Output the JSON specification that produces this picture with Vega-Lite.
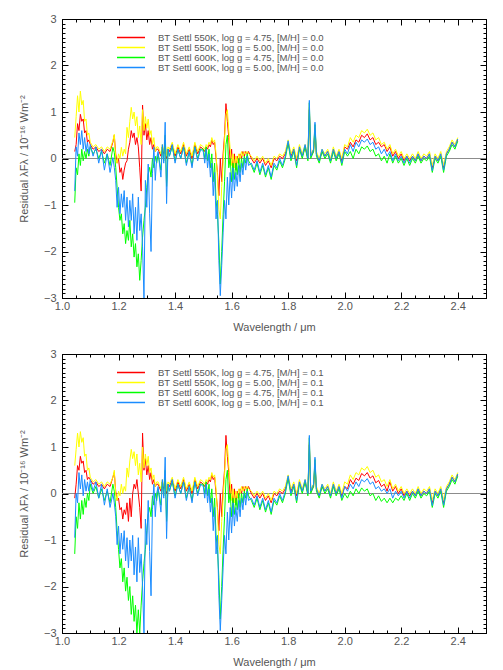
{
"$schema": "https://vega.github.io/schema/vega-lite/v6.json",
"autosize": {"type": "pad"},
"padding": {"left": 17, "top": 12, "right": 18, "bottom": 3},
"background": "white",
"bounds": "flush",
"spacing": 56,
"config": {
 "view": {"stroke": "#000", "strokeWidth": 1},
 "axis": {"grid": false, "domainColor": "#000", "domainWidth": 1, "tickColor": "#000", "tickWidth": 1, "labelFont": "Liberation Sans", "labelFontSize": 11, "labelColor": "#555", "titleFont": "Liberation Sans", "titleFontSize": 11, "titleFontWeight": "normal", "titleColor": "#555", "labelOverlap": false, "labelFlush": false, "labelBound": false}
},
"datasets": {"d": [
{"p":1,"s":"A","x":1.045,"y":0.15},{"p":1,"s":"A","x":1.05,"y":0.3},{"p":1,"s":"A","x":1.055,"y":0.75},{"p":1,"s":"A","x":1.06,"y":0.6},{"p":1,"s":"A","x":1.065,"y":0.95},{"p":1,"s":"A","x":1.07,"y":0.8},{"p":1,"s":"A","x":1.075,"y":0.85},{"p":1,"s":"A","x":1.08,"y":0.55},{"p":1,"s":"A","x":1.085,"y":0.6},{"p":1,"s":"A","x":1.09,"y":0.35},{"p":1,"s":"A","x":1.095,"y":0.4},
{"p":1,"s":"A","x":1.1,"y":0.3},{"p":1,"s":"A","x":1.11,"y":0.2},{"p":1,"s":"A","x":1.12,"y":0.25},{"p":1,"s":"A","x":1.13,"y":0.15},{"p":1,"s":"A","x":1.14,"y":0.2},{"p":1,"s":"A","x":1.15,"y":0.1},{"p":1,"s":"A","x":1.16,"y":0.2},{"p":1,"s":"A","x":1.17,"y":0.15},
{"p":1,"s":"A","x":1.18,"y":0.35},{"p":1,"s":"A","x":1.185,"y":0.5},{"p":1,"s":"A","x":1.19,"y":0.1},{"p":1,"s":"A","x":1.195,"y":-0.1},{"p":1,"s":"A","x":1.2,"y":0.0},{"p":1,"s":"A","x":1.205,"y":-0.3},{"p":1,"s":"A","x":1.21,"y":-0.2},{"p":1,"s":"A","x":1.215,"y":-0.45},{"p":1,"s":"A","x":1.22,"y":-0.25},{"p":1,"s":"A","x":1.225,"y":-0.1},{"p":1,"s":"A","x":1.23,"y":-0.05},{"p":1,"s":"A","x":1.235,"y":0.2},{"p":1,"s":"A","x":1.24,"y":0.35},{"p":1,"s":"A","x":1.245,"y":0.6},{"p":1,"s":"A","x":1.25,"y":0.45},{"p":1,"s":"A","x":1.255,"y":0.55},{"p":1,"s":"A","x":1.26,"y":0.3},{"p":1,"s":"A","x":1.265,"y":0.45},{"p":1,"s":"A","x":1.27,"y":0.25},{"p":1,"s":"A","x":1.275,"y":-0.2},{"p":1,"s":"A","x":1.28,"y":-0.7},{"p":1,"s":"A","x":1.285,"y":1.15},{"p":1,"s":"A","x":1.29,"y":0.5},{"p":1,"s":"A","x":1.295,"y":0.75},{"p":1,"s":"A","x":1.3,"y":0.4},{"p":1,"s":"A","x":1.305,"y":0.6},{"p":1,"s":"A","x":1.31,"y":0.3},{"p":1,"s":"A","x":1.315,"y":0.45},{"p":1,"s":"A","x":1.32,"y":0.2},{"p":1,"s":"A","x":1.325,"y":0.3},{"p":1,"s":"A","x":1.33,"y":0.15},{"p":1,"s":"A","x":1.335,"y":0.2},
{"p":1,"s":"A","x":1.34,"y":0.2},{"p":1,"s":"A","x":1.35,"y":0.05},{"p":1,"s":"A","x":1.355,"y":0.25},{"p":1,"s":"A","x":1.36,"y":0.1},{"p":1,"s":"A","x":1.365,"y":0.3},{"p":1,"s":"A","x":1.37,"y":0.0},{"p":1,"s":"A","x":1.375,"y":0.2},{"p":1,"s":"A","x":1.38,"y":0.15},{"p":1,"s":"A","x":1.39,"y":0.3},{"p":1,"s":"A","x":1.4,"y":0.05},{"p":1,"s":"A","x":1.41,"y":0.25},{"p":1,"s":"A","x":1.42,"y":0.1},{"p":1,"s":"A","x":1.43,"y":0.3},{"p":1,"s":"A","x":1.44,"y":0.05},{"p":1,"s":"A","x":1.45,"y":0.2},{"p":1,"s":"A","x":1.46,"y":0.0},{"p":1,"s":"A","x":1.47,"y":0.3},{"p":1,"s":"A","x":1.48,"y":0.1},{"p":1,"s":"A","x":1.49,"y":0.25},
{"p":1,"s":"A","x":1.5,"y":0.2},{"p":1,"s":"A","x":1.505,"y":0.15},{"p":1,"s":"A","x":1.51,"y":0.25},{"p":1,"s":"A","x":1.515,"y":0.2},{"p":1,"s":"A","x":1.52,"y":0.3},{"p":1,"s":"A","x":1.525,"y":0.25},{"p":1,"s":"A","x":1.53,"y":0.4},{"p":1,"s":"A","x":1.535,"y":0.3},{"p":1,"s":"A","x":1.54,"y":0.35},{"p":1,"s":"A","x":1.545,"y":0.0},{"p":1,"s":"A","x":1.55,"y":-0.3},{"p":1,"s":"A","x":1.555,"y":-0.8},{"p":1,"s":"A","x":1.56,"y":0.0},{"p":1,"s":"A","x":1.565,"y":-0.5},{"p":1,"s":"A","x":1.57,"y":0.1},{"p":1,"s":"A","x":1.575,"y":0.5},{"p":1,"s":"A","x":1.58,"y":1.18},{"p":1,"s":"A","x":1.585,"y":0.8},{"p":1,"s":"A","x":1.59,"y":0.45},{"p":1,"s":"A","x":1.595,"y":-0.1},{"p":1,"s":"A","x":1.6,"y":0.2},{"p":1,"s":"A","x":1.605,"y":-0.3},{"p":1,"s":"A","x":1.61,"y":0.1},{"p":1,"s":"A","x":1.615,"y":-0.25},{"p":1,"s":"A","x":1.62,"y":0.05},{"p":1,"s":"A","x":1.625,"y":-0.1},{"p":1,"s":"A","x":1.63,"y":0.1},{"p":1,"s":"A","x":1.635,"y":0.0},{"p":1,"s":"A","x":1.64,"y":0.15},{"p":1,"s":"A","x":1.645,"y":0.05},{"p":1,"s":"A","x":1.65,"y":0.15},{"p":1,"s":"A","x":1.655,"y":0.1},{"p":1,"s":"A","x":1.66,"y":0.15},
{"p":1,"s":"A","x":1.67,"y":0.0},{"p":1,"s":"A","x":1.68,"y":-0.1},{"p":1,"s":"A","x":1.69,"y":0.0},{"p":1,"s":"A","x":1.7,"y":-0.1},{"p":1,"s":"A","x":1.71,"y":0.0},{"p":1,"s":"A","x":1.72,"y":-0.15},{"p":1,"s":"A","x":1.73,"y":-0.05},{"p":1,"s":"A","x":1.74,"y":-0.2},{"p":1,"s":"A","x":1.75,"y":0.0},{"p":1,"s":"A","x":1.76,"y":-0.05},{"p":1,"s":"A","x":1.77,"y":0.05},{"p":1,"s":"A","x":1.78,"y":0.0},{"p":1,"s":"A","x":1.79,"y":0.1},{"p":1,"s":"A","x":1.8,"y":0.35},{"p":1,"s":"A","x":1.81,"y":0.05},{"p":1,"s":"A","x":1.82,"y":0.2},{"p":1,"s":"A","x":1.83,"y":-0.05},{"p":1,"s":"A","x":1.84,"y":0.25},{"p":1,"s":"A","x":1.85,"y":0.05},{"p":1,"s":"A","x":1.86,"y":0.25},{"p":1,"s":"A","x":1.87,"y":0.0},{"p":1,"s":"A","x":1.875,"y":1.05},{"p":1,"s":"A","x":1.88,"y":0.05},{"p":1,"s":"A","x":1.89,"y":0.15},{"p":1,"s":"A","x":1.895,"y":0.6},{"p":1,"s":"A","x":1.9,"y":0.1},{"p":1,"s":"A","x":1.91,"y":-0.05},{"p":1,"s":"A","x":1.92,"y":0.15},{"p":1,"s":"A","x":1.93,"y":0.05},{"p":1,"s":"A","x":1.94,"y":0.15},{"p":1,"s":"A","x":1.95,"y":-0.05},{"p":1,"s":"A","x":1.96,"y":0.2},{"p":1,"s":"A","x":1.97,"y":0.0},{"p":1,"s":"A","x":1.98,"y":0.15},{"p":1,"s":"A","x":1.99,"y":-0.05},{"p":1,"s":"A","x":2.0,"y":0.25},{"p":1,"s":"A","x":2.01,"y":0.2},{"p":1,"s":"A","x":2.02,"y":0.35},{"p":1,"s":"A","x":2.03,"y":0.25},{"p":1,"s":"A","x":2.04,"y":0.4},{"p":1,"s":"A","x":2.05,"y":0.35},{"p":1,"s":"A","x":2.06,"y":0.5},{"p":1,"s":"A","x":2.07,"y":0.45},{"p":1,"s":"A","x":2.08,"y":0.53},{"p":1,"s":"A","x":2.09,"y":0.4},{"p":1,"s":"A","x":2.1,"y":0.45},{"p":1,"s":"A","x":2.11,"y":0.3},{"p":1,"s":"A","x":2.12,"y":0.35},{"p":1,"s":"A","x":2.13,"y":0.25},{"p":1,"s":"A","x":2.14,"y":0.3},{"p":1,"s":"A","x":2.15,"y":0.15},{"p":1,"s":"A","x":2.16,"y":0.25},{"p":1,"s":"A","x":2.17,"y":0.05},{"p":1,"s":"A","x":2.18,"y":0.15},{"p":1,"s":"A","x":2.19,"y":0.0},{"p":1,"s":"A","x":2.2,"y":0.1},{"p":1,"s":"A","x":2.21,"y":-0.05},{"p":1,"s":"A","x":2.22,"y":0.05},{"p":1,"s":"A","x":2.23,"y":-0.05},{"p":1,"s":"A","x":2.24,"y":0.05},{"p":1,"s":"A","x":2.25,"y":-0.05},{"p":1,"s":"A","x":2.26,"y":0.1},{"p":1,"s":"A","x":2.27,"y":-0.05},{"p":1,"s":"A","x":2.28,"y":0.05},{"p":1,"s":"A","x":2.29,"y":0.0},{"p":1,"s":"A","x":2.3,"y":0.1},{"p":1,"s":"A","x":2.31,"y":-0.2},{"p":1,"s":"A","x":2.32,"y":0.05},{"p":1,"s":"A","x":2.33,"y":-0.05},{"p":1,"s":"A","x":2.34,"y":0.1},{"p":1,"s":"A","x":2.35,"y":-0.2},{"p":1,"s":"A","x":2.36,"y":0.1},{"p":1,"s":"A","x":2.37,"y":0.2},{"p":1,"s":"A","x":2.38,"y":0.35},{"p":1,"s":"A","x":2.39,"y":0.25},{"p":1,"s":"A","x":2.4,"y":0.4},

{"p":1,"s":"B","x":1.045,"y":0.45},{"p":1,"s":"B","x":1.05,"y":0.9},{"p":1,"s":"B","x":1.055,"y":1.35},{"p":1,"s":"B","x":1.06,"y":1.0},{"p":1,"s":"B","x":1.065,"y":1.45},{"p":1,"s":"B","x":1.07,"y":1.15},{"p":1,"s":"B","x":1.075,"y":1.25},{"p":1,"s":"B","x":1.08,"y":0.8},{"p":1,"s":"B","x":1.085,"y":0.85},{"p":1,"s":"B","x":1.09,"y":0.5},{"p":1,"s":"B","x":1.095,"y":0.55},
{"p":1,"s":"B","x":1.1,"y":0.35},{"p":1,"s":"B","x":1.11,"y":0.25},{"p":1,"s":"B","x":1.12,"y":0.3},{"p":1,"s":"B","x":1.13,"y":0.2},{"p":1,"s":"B","x":1.14,"y":0.25},{"p":1,"s":"B","x":1.15,"y":0.15},{"p":1,"s":"B","x":1.16,"y":0.25},{"p":1,"s":"B","x":1.17,"y":0.2},
{"p":1,"s":"B","x":1.18,"y":0.38},{"p":1,"s":"B","x":1.185,"y":0.52},{"p":1,"s":"B","x":1.19,"y":0.0},{"p":1,"s":"B","x":1.195,"y":-0.1},{"p":1,"s":"B","x":1.2,"y":0.1},{"p":1,"s":"B","x":1.205,"y":0.0},{"p":1,"s":"B","x":1.21,"y":0.24},{"p":1,"s":"B","x":1.215,"y":0.05},{"p":1,"s":"B","x":1.22,"y":0.2},{"p":1,"s":"B","x":1.225,"y":0.1},{"p":1,"s":"B","x":1.23,"y":0.67},{"p":1,"s":"B","x":1.235,"y":0.45},{"p":1,"s":"B","x":1.24,"y":0.8},{"p":1,"s":"B","x":1.245,"y":1.1},{"p":1,"s":"B","x":1.25,"y":0.85},{"p":1,"s":"B","x":1.255,"y":1.0},{"p":1,"s":"B","x":1.26,"y":0.7},{"p":1,"s":"B","x":1.265,"y":0.9},{"p":1,"s":"B","x":1.27,"y":0.45},{"p":1,"s":"B","x":1.275,"y":0.7},{"p":1,"s":"B","x":1.28,"y":0.3},{"p":1,"s":"B","x":1.285,"y":1.05},{"p":1,"s":"B","x":1.29,"y":0.6},{"p":1,"s":"B","x":1.295,"y":0.9},{"p":1,"s":"B","x":1.3,"y":0.65},{"p":1,"s":"B","x":1.305,"y":0.85},{"p":1,"s":"B","x":1.31,"y":0.5},{"p":1,"s":"B","x":1.315,"y":0.6},{"p":1,"s":"B","x":1.32,"y":0.3},{"p":1,"s":"B","x":1.325,"y":0.45},{"p":1,"s":"B","x":1.33,"y":0.15},{"p":1,"s":"B","x":1.335,"y":0.25},
{"p":1,"s":"B","x":1.34,"y":0.25},{"p":1,"s":"B","x":1.35,"y":0.1},{"p":1,"s":"B","x":1.355,"y":0.3},{"p":1,"s":"B","x":1.36,"y":0.15},{"p":1,"s":"B","x":1.365,"y":0.35},{"p":1,"s":"B","x":1.37,"y":0.05},{"p":1,"s":"B","x":1.375,"y":0.25},{"p":1,"s":"B","x":1.38,"y":0.2},{"p":1,"s":"B","x":1.39,"y":0.35},{"p":1,"s":"B","x":1.4,"y":0.1},{"p":1,"s":"B","x":1.41,"y":0.3},{"p":1,"s":"B","x":1.42,"y":0.15},{"p":1,"s":"B","x":1.43,"y":0.35},{"p":1,"s":"B","x":1.44,"y":0.1},{"p":1,"s":"B","x":1.45,"y":0.25},{"p":1,"s":"B","x":1.46,"y":0.05},{"p":1,"s":"B","x":1.47,"y":0.35},{"p":1,"s":"B","x":1.48,"y":0.15},{"p":1,"s":"B","x":1.49,"y":0.3},
{"p":1,"s":"B","x":1.5,"y":0.25},{"p":1,"s":"B","x":1.505,"y":0.2},{"p":1,"s":"B","x":1.51,"y":0.3},{"p":1,"s":"B","x":1.515,"y":0.25},{"p":1,"s":"B","x":1.52,"y":0.35},{"p":1,"s":"B","x":1.525,"y":0.3},{"p":1,"s":"B","x":1.53,"y":0.45},{"p":1,"s":"B","x":1.535,"y":0.35},{"p":1,"s":"B","x":1.54,"y":0.4},{"p":1,"s":"B","x":1.545,"y":0.1},{"p":1,"s":"B","x":1.55,"y":-0.4},{"p":1,"s":"B","x":1.555,"y":-1.1},{"p":1,"s":"B","x":1.56,"y":-1.3},{"p":1,"s":"B","x":1.565,"y":-0.6},{"p":1,"s":"B","x":1.57,"y":-0.1},{"p":1,"s":"B","x":1.575,"y":0.4},{"p":1,"s":"B","x":1.58,"y":0.95},{"p":1,"s":"B","x":1.585,"y":1.05},{"p":1,"s":"B","x":1.59,"y":0.6},{"p":1,"s":"B","x":1.595,"y":0.2},{"p":1,"s":"B","x":1.6,"y":-0.15},{"p":1,"s":"B","x":1.605,"y":0.1},{"p":1,"s":"B","x":1.61,"y":-0.2},{"p":1,"s":"B","x":1.615,"y":0.05},{"p":1,"s":"B","x":1.62,"y":-0.1},{"p":1,"s":"B","x":1.625,"y":0.1},{"p":1,"s":"B","x":1.63,"y":0.0},{"p":1,"s":"B","x":1.635,"y":0.15},{"p":1,"s":"B","x":1.64,"y":0.05},{"p":1,"s":"B","x":1.645,"y":0.15},{"p":1,"s":"B","x":1.65,"y":0.1},{"p":1,"s":"B","x":1.655,"y":0.15},{"p":1,"s":"B","x":1.66,"y":0.1},
{"p":1,"s":"B","x":1.67,"y":0.05},{"p":1,"s":"B","x":1.68,"y":-0.05},{"p":1,"s":"B","x":1.69,"y":0.05},{"p":1,"s":"B","x":1.7,"y":-0.05},{"p":1,"s":"B","x":1.71,"y":0.05},{"p":1,"s":"B","x":1.72,"y":-0.1},{"p":1,"s":"B","x":1.73,"y":0.0},{"p":1,"s":"B","x":1.74,"y":-0.15},{"p":1,"s":"B","x":1.75,"y":0.05},{"p":1,"s":"B","x":1.76,"y":0.0},{"p":1,"s":"B","x":1.77,"y":0.1},{"p":1,"s":"B","x":1.78,"y":0.05},{"p":1,"s":"B","x":1.79,"y":0.15},{"p":1,"s":"B","x":1.8,"y":0.4},{"p":1,"s":"B","x":1.81,"y":0.1},{"p":1,"s":"B","x":1.82,"y":0.25},{"p":1,"s":"B","x":1.83,"y":0.0},{"p":1,"s":"B","x":1.84,"y":0.3},{"p":1,"s":"B","x":1.85,"y":0.1},{"p":1,"s":"B","x":1.86,"y":0.3},{"p":1,"s":"B","x":1.87,"y":0.05},{"p":1,"s":"B","x":1.875,"y":1.1},{"p":1,"s":"B","x":1.88,"y":0.1},{"p":1,"s":"B","x":1.89,"y":0.2},{"p":1,"s":"B","x":1.895,"y":0.65},{"p":1,"s":"B","x":1.9,"y":0.15},{"p":1,"s":"B","x":1.91,"y":0.0},{"p":1,"s":"B","x":1.92,"y":0.2},{"p":1,"s":"B","x":1.93,"y":0.1},{"p":1,"s":"B","x":1.94,"y":0.2},{"p":1,"s":"B","x":1.95,"y":0.0},{"p":1,"s":"B","x":1.96,"y":0.25},{"p":1,"s":"B","x":1.97,"y":0.05},{"p":1,"s":"B","x":1.98,"y":0.2},{"p":1,"s":"B","x":1.99,"y":0.0},{"p":1,"s":"B","x":2.0,"y":0.3},{"p":1,"s":"B","x":2.01,"y":0.25},{"p":1,"s":"B","x":2.02,"y":0.45},{"p":1,"s":"B","x":2.03,"y":0.35},{"p":1,"s":"B","x":2.04,"y":0.5},{"p":1,"s":"B","x":2.05,"y":0.45},{"p":1,"s":"B","x":2.06,"y":0.6},{"p":1,"s":"B","x":2.07,"y":0.55},{"p":1,"s":"B","x":2.08,"y":0.63},{"p":1,"s":"B","x":2.09,"y":0.5},{"p":1,"s":"B","x":2.1,"y":0.55},{"p":1,"s":"B","x":2.11,"y":0.4},{"p":1,"s":"B","x":2.12,"y":0.45},{"p":1,"s":"B","x":2.13,"y":0.3},{"p":1,"s":"B","x":2.14,"y":0.35},{"p":1,"s":"B","x":2.15,"y":0.2},{"p":1,"s":"B","x":2.16,"y":0.3},{"p":1,"s":"B","x":2.17,"y":0.1},{"p":1,"s":"B","x":2.18,"y":0.2},{"p":1,"s":"B","x":2.19,"y":0.05},{"p":1,"s":"B","x":2.2,"y":0.15},{"p":1,"s":"B","x":2.21,"y":0.0},{"p":1,"s":"B","x":2.22,"y":0.1},{"p":1,"s":"B","x":2.23,"y":0.0},{"p":1,"s":"B","x":2.24,"y":0.1},{"p":1,"s":"B","x":2.25,"y":0.0},{"p":1,"s":"B","x":2.26,"y":0.15},{"p":1,"s":"B","x":2.27,"y":0.0},{"p":1,"s":"B","x":2.28,"y":0.1},{"p":1,"s":"B","x":2.29,"y":0.05},{"p":1,"s":"B","x":2.3,"y":0.15},{"p":1,"s":"B","x":2.31,"y":-0.15},{"p":1,"s":"B","x":2.32,"y":0.1},{"p":1,"s":"B","x":2.33,"y":0.0},{"p":1,"s":"B","x":2.34,"y":0.15},{"p":1,"s":"B","x":2.35,"y":-0.15},{"p":1,"s":"B","x":2.36,"y":0.15},{"p":1,"s":"B","x":2.37,"y":0.25},{"p":1,"s":"B","x":2.38,"y":0.4},{"p":1,"s":"B","x":2.39,"y":0.3},{"p":1,"s":"B","x":2.4,"y":0.45},

{"p":1,"s":"C","x":1.045,"y":-0.95},{"p":1,"s":"C","x":1.05,"y":-0.2},{"p":1,"s":"C","x":1.055,"y":-0.35},{"p":1,"s":"C","x":1.06,"y":0.1},{"p":1,"s":"C","x":1.065,"y":-0.15},{"p":1,"s":"C","x":1.07,"y":0.2},{"p":1,"s":"C","x":1.075,"y":-0.05},{"p":1,"s":"C","x":1.08,"y":0.15},{"p":1,"s":"C","x":1.085,"y":0.0},{"p":1,"s":"C","x":1.09,"y":0.2},{"p":1,"s":"C","x":1.095,"y":0.05},
{"p":1,"s":"C","x":1.1,"y":0.25},{"p":1,"s":"C","x":1.11,"y":0.1},{"p":1,"s":"C","x":1.12,"y":0.2},{"p":1,"s":"C","x":1.13,"y":0.0},{"p":1,"s":"C","x":1.14,"y":0.15},{"p":1,"s":"C","x":1.15,"y":-0.1},{"p":1,"s":"C","x":1.16,"y":0.1},{"p":1,"s":"C","x":1.17,"y":-0.15},
{"p":1,"s":"C","x":1.18,"y":0.24},{"p":1,"s":"C","x":1.185,"y":0.13},{"p":1,"s":"C","x":1.19,"y":-0.19},{"p":1,"s":"C","x":1.195,"y":-0.62},{"p":1,"s":"C","x":1.2,"y":-1.05},{"p":1,"s":"C","x":1.205,"y":-1.33},{"p":1,"s":"C","x":1.21,"y":-1.19},{"p":1,"s":"C","x":1.215,"y":-1.62},{"p":1,"s":"C","x":1.22,"y":-1.4},{"p":1,"s":"C","x":1.225,"y":-1.83},{"p":1,"s":"C","x":1.23,"y":-1.55},{"p":1,"s":"C","x":1.235,"y":-1.76},{"p":1,"s":"C","x":1.24,"y":-1.33},{"p":1,"s":"C","x":1.245,"y":-1.9},{"p":1,"s":"C","x":1.25,"y":-1.62},{"p":1,"s":"C","x":1.255,"y":-2.12},{"p":1,"s":"C","x":1.26,"y":-1.83},{"p":1,"s":"C","x":1.265,"y":-2.33},{"p":1,"s":"C","x":1.27,"y":-2.05},{"p":1,"s":"C","x":1.275,"y":-2.62},{"p":1,"s":"C","x":1.28,"y":-2.19},{"p":1,"s":"C","x":1.285,"y":-1.69},{"p":1,"s":"C","x":1.29,"y":-1.33},{"p":1,"s":"C","x":1.295,"y":-1.05},{"p":1,"s":"C","x":1.3,"y":-0.62},{"p":1,"s":"C","x":1.305,"y":-0.33},{"p":1,"s":"C","x":1.31,"y":-0.19},{"p":1,"s":"C","x":1.315,"y":-0.4},{"p":1,"s":"C","x":1.32,"y":0.0},{"p":1,"s":"C","x":1.325,"y":-0.2},{"p":1,"s":"C","x":1.33,"y":0.05},{"p":1,"s":"C","x":1.335,"y":-0.1},
{"p":1,"s":"C","x":1.34,"y":0.1},{"p":1,"s":"C","x":1.35,"y":-0.25},{"p":1,"s":"C","x":1.355,"y":0.25},{"p":1,"s":"C","x":1.36,"y":-0.05},{"p":1,"s":"C","x":1.365,"y":0.5},{"p":1,"s":"C","x":1.37,"y":-0.6},{"p":1,"s":"C","x":1.375,"y":0.2},{"p":1,"s":"C","x":1.38,"y":0.05},{"p":1,"s":"C","x":1.39,"y":0.25},{"p":1,"s":"C","x":1.4,"y":-0.05},{"p":1,"s":"C","x":1.41,"y":0.2},{"p":1,"s":"C","x":1.42,"y":0.0},{"p":1,"s":"C","x":1.43,"y":0.25},{"p":1,"s":"C","x":1.44,"y":-0.1},{"p":1,"s":"C","x":1.45,"y":0.15},{"p":1,"s":"C","x":1.46,"y":-0.15},{"p":1,"s":"C","x":1.47,"y":0.25},{"p":1,"s":"C","x":1.48,"y":0.0},{"p":1,"s":"C","x":1.49,"y":0.2},
{"p":1,"s":"C","x":1.5,"y":0.2},{"p":1,"s":"C","x":1.505,"y":0.0},{"p":1,"s":"C","x":1.51,"y":0.25},{"p":1,"s":"C","x":1.515,"y":-0.05},{"p":1,"s":"C","x":1.52,"y":0.2},{"p":1,"s":"C","x":1.525,"y":-0.2},{"p":1,"s":"C","x":1.53,"y":0.1},{"p":1,"s":"C","x":1.535,"y":-0.5},{"p":1,"s":"C","x":1.54,"y":-0.1},{"p":1,"s":"C","x":1.545,"y":-0.9},{"p":1,"s":"C","x":1.55,"y":-1.2},{"p":1,"s":"C","x":1.555,"y":-1.8},{"p":1,"s":"C","x":1.56,"y":-2.7},{"p":1,"s":"C","x":1.565,"y":-2.0},{"p":1,"s":"C","x":1.57,"y":-1.2},{"p":1,"s":"C","x":1.575,"y":-0.5},{"p":1,"s":"C","x":1.58,"y":0.3},{"p":1,"s":"C","x":1.585,"y":0.5},{"p":1,"s":"C","x":1.59,"y":-0.2},{"p":1,"s":"C","x":1.595,"y":0.0},{"p":1,"s":"C","x":1.6,"y":-0.5},{"p":1,"s":"C","x":1.605,"y":-0.1},{"p":1,"s":"C","x":1.61,"y":-0.45},{"p":1,"s":"C","x":1.615,"y":-0.1},{"p":1,"s":"C","x":1.62,"y":-0.35},{"p":1,"s":"C","x":1.625,"y":0.0},{"p":1,"s":"C","x":1.63,"y":-0.3},{"p":1,"s":"C","x":1.635,"y":0.0},{"p":1,"s":"C","x":1.64,"y":-0.2},{"p":1,"s":"C","x":1.645,"y":0.05},{"p":1,"s":"C","x":1.65,"y":-0.1},{"p":1,"s":"C","x":1.655,"y":0.1},{"p":1,"s":"C","x":1.66,"y":-0.05},
{"p":1,"s":"C","x":1.67,"y":-0.15},{"p":1,"s":"C","x":1.68,"y":-0.3},{"p":1,"s":"C","x":1.69,"y":-0.1},{"p":1,"s":"C","x":1.7,"y":-0.35},{"p":1,"s":"C","x":1.71,"y":-0.15},{"p":1,"s":"C","x":1.72,"y":-0.4},{"p":1,"s":"C","x":1.73,"y":-0.2},{"p":1,"s":"C","x":1.74,"y":-0.45},{"p":1,"s":"C","x":1.75,"y":-0.15},{"p":1,"s":"C","x":1.76,"y":-0.25},{"p":1,"s":"C","x":1.77,"y":-0.05},{"p":1,"s":"C","x":1.78,"y":-0.2},{"p":1,"s":"C","x":1.79,"y":0.0},{"p":1,"s":"C","x":1.8,"y":0.33},{"p":1,"s":"C","x":1.81,"y":-0.05},{"p":1,"s":"C","x":1.82,"y":0.15},{"p":1,"s":"C","x":1.83,"y":-0.2},{"p":1,"s":"C","x":1.84,"y":0.2},{"p":1,"s":"C","x":1.85,"y":0.0},{"p":1,"s":"C","x":1.86,"y":0.25},{"p":1,"s":"C","x":1.87,"y":-0.05},{"p":1,"s":"C","x":1.875,"y":1.2},{"p":1,"s":"C","x":1.88,"y":0.0},{"p":1,"s":"C","x":1.89,"y":0.15},{"p":1,"s":"C","x":1.895,"y":0.73},{"p":1,"s":"C","x":1.9,"y":0.05},{"p":1,"s":"C","x":1.91,"y":-0.1},{"p":1,"s":"C","x":1.92,"y":0.15},{"p":1,"s":"C","x":1.93,"y":0.0},{"p":1,"s":"C","x":1.94,"y":0.1},{"p":1,"s":"C","x":1.95,"y":-0.1},{"p":1,"s":"C","x":1.96,"y":0.15},{"p":1,"s":"C","x":1.97,"y":-0.05},{"p":1,"s":"C","x":1.98,"y":0.1},{"p":1,"s":"C","x":1.99,"y":-0.15},{"p":1,"s":"C","x":2.0,"y":0.15},{"p":1,"s":"C","x":2.01,"y":0.05},{"p":1,"s":"C","x":2.02,"y":0.15},{"p":1,"s":"C","x":2.03,"y":0.0},{"p":1,"s":"C","x":2.04,"y":0.2},{"p":1,"s":"C","x":2.05,"y":0.1},{"p":1,"s":"C","x":2.06,"y":0.25},{"p":1,"s":"C","x":2.07,"y":0.2},{"p":1,"s":"C","x":2.08,"y":0.27},{"p":1,"s":"C","x":2.09,"y":0.15},{"p":1,"s":"C","x":2.1,"y":0.2},{"p":1,"s":"C","x":2.11,"y":0.05},{"p":1,"s":"C","x":2.12,"y":0.1},{"p":1,"s":"C","x":2.13,"y":-0.05},{"p":1,"s":"C","x":2.14,"y":0.05},{"p":1,"s":"C","x":2.15,"y":-0.1},{"p":1,"s":"C","x":2.16,"y":0.1},{"p":1,"s":"C","x":2.17,"y":-0.1},{"p":1,"s":"C","x":2.18,"y":0.05},{"p":1,"s":"C","x":2.19,"y":-0.1},{"p":1,"s":"C","x":2.2,"y":0.0},{"p":1,"s":"C","x":2.21,"y":-0.15},{"p":1,"s":"C","x":2.22,"y":0.0},{"p":1,"s":"C","x":2.23,"y":-0.15},{"p":1,"s":"C","x":2.24,"y":0.0},{"p":1,"s":"C","x":2.25,"y":-0.1},{"p":1,"s":"C","x":2.26,"y":0.05},{"p":1,"s":"C","x":2.27,"y":-0.1},{"p":1,"s":"C","x":2.28,"y":0.0},{"p":1,"s":"C","x":2.29,"y":-0.05},{"p":1,"s":"C","x":2.3,"y":0.05},{"p":1,"s":"C","x":2.31,"y":-0.3},{"p":1,"s":"C","x":2.32,"y":0.0},{"p":1,"s":"C","x":2.33,"y":-0.1},{"p":1,"s":"C","x":2.34,"y":0.05},{"p":1,"s":"C","x":2.35,"y":-0.3},{"p":1,"s":"C","x":2.36,"y":0.05},{"p":1,"s":"C","x":2.37,"y":0.15},{"p":1,"s":"C","x":2.38,"y":0.3},{"p":1,"s":"C","x":2.39,"y":0.2},{"p":1,"s":"C","x":2.4,"y":0.37},

{"p":1,"s":"D","x":1.045,"y":-0.7},{"p":1,"s":"D","x":1.05,"y":0.25},{"p":1,"s":"D","x":1.055,"y":0.05},{"p":1,"s":"D","x":1.06,"y":0.55},{"p":1,"s":"D","x":1.065,"y":0.3},{"p":1,"s":"D","x":1.07,"y":0.6},{"p":1,"s":"D","x":1.075,"y":0.2},{"p":1,"s":"D","x":1.08,"y":0.45},{"p":1,"s":"D","x":1.085,"y":0.15},{"p":1,"s":"D","x":1.09,"y":0.35},{"p":1,"s":"D","x":1.095,"y":0.1},
{"p":1,"s":"D","x":1.1,"y":0.3},{"p":1,"s":"D","x":1.11,"y":0.05},{"p":1,"s":"D","x":1.12,"y":0.25},{"p":1,"s":"D","x":1.13,"y":-0.1},{"p":1,"s":"D","x":1.14,"y":0.2},{"p":1,"s":"D","x":1.15,"y":-0.25},{"p":1,"s":"D","x":1.16,"y":0.1},{"p":1,"s":"D","x":1.17,"y":-0.3},
{"p":1,"s":"D","x":1.18,"y":0.02},{"p":1,"s":"D","x":1.185,"y":-0.19},{"p":1,"s":"D","x":1.19,"y":-0.47},{"p":1,"s":"D","x":1.195,"y":-1.05},{"p":1,"s":"D","x":1.2,"y":-0.62},{"p":1,"s":"D","x":1.205,"y":-1.19},{"p":1,"s":"D","x":1.21,"y":-0.76},{"p":1,"s":"D","x":1.215,"y":-1.05},{"p":1,"s":"D","x":1.22,"y":-0.69},{"p":1,"s":"D","x":1.225,"y":-1.33},{"p":1,"s":"D","x":1.23,"y":-0.83},{"p":1,"s":"D","x":1.235,"y":-1.47},{"p":1,"s":"D","x":1.24,"y":-0.9},{"p":1,"s":"D","x":1.245,"y":-1.33},{"p":1,"s":"D","x":1.25,"y":-0.76},{"p":1,"s":"D","x":1.255,"y":-1.62},{"p":1,"s":"D","x":1.26,"y":-1.05},{"p":1,"s":"D","x":1.265,"y":-1.76},{"p":1,"s":"D","x":1.27,"y":-0.83},{"p":1,"s":"D","x":1.275,"y":-1.55},{"p":1,"s":"D","x":1.28,"y":-1.19},{"p":1,"s":"D","x":1.285,"y":-1.9},{"p":1,"s":"D","x":1.29,"y":-3.0},{"p":1,"s":"D","x":1.295,"y":-0.47},{"p":1,"s":"D","x":1.3,"y":-1.05},{"p":1,"s":"D","x":1.305,"y":-0.12},{"p":1,"s":"D","x":1.31,"y":-1.19},{"p":1,"s":"D","x":1.315,"y":-2.0},{"p":1,"s":"D","x":1.32,"y":-0.33},{"p":1,"s":"D","x":1.325,"y":0.24},{"p":1,"s":"D","x":1.33,"y":-0.47},{"p":1,"s":"D","x":1.335,"y":0.02},
{"p":1,"s":"D","x":1.34,"y":0.15},{"p":1,"s":"D","x":1.35,"y":-0.4},{"p":1,"s":"D","x":1.355,"y":0.3},{"p":1,"s":"D","x":1.36,"y":-0.1},{"p":1,"s":"D","x":1.365,"y":0.78},{"p":1,"s":"D","x":1.37,"y":-0.97},{"p":1,"s":"D","x":1.375,"y":0.2},{"p":1,"s":"D","x":1.38,"y":0.05},{"p":1,"s":"D","x":1.39,"y":0.3},{"p":1,"s":"D","x":1.4,"y":-0.1},{"p":1,"s":"D","x":1.41,"y":0.2},{"p":1,"s":"D","x":1.42,"y":0.0},{"p":1,"s":"D","x":1.43,"y":0.25},{"p":1,"s":"D","x":1.44,"y":-0.15},{"p":1,"s":"D","x":1.45,"y":0.15},{"p":1,"s":"D","x":1.46,"y":-0.2},{"p":1,"s":"D","x":1.47,"y":0.25},{"p":1,"s":"D","x":1.48,"y":-0.05},{"p":1,"s":"D","x":1.49,"y":0.2},
{"p":1,"s":"D","x":1.5,"y":0.15},{"p":1,"s":"D","x":1.505,"y":-0.1},{"p":1,"s":"D","x":1.51,"y":0.2},{"p":1,"s":"D","x":1.515,"y":-0.2},{"p":1,"s":"D","x":1.52,"y":0.1},{"p":1,"s":"D","x":1.525,"y":-0.4},{"p":1,"s":"D","x":1.53,"y":-0.1},{"p":1,"s":"D","x":1.535,"y":-0.8},{"p":1,"s":"D","x":1.54,"y":-0.3},{"p":1,"s":"D","x":1.545,"y":-1.3},{"p":1,"s":"D","x":1.55,"y":-0.9},{"p":1,"s":"D","x":1.555,"y":-2.2},{"p":1,"s":"D","x":1.56,"y":-2.95},{"p":1,"s":"D","x":1.565,"y":-2.3},{"p":1,"s":"D","x":1.57,"y":-1.6},{"p":1,"s":"D","x":1.575,"y":-0.9},{"p":1,"s":"D","x":1.58,"y":-1.3},{"p":1,"s":"D","x":1.585,"y":-0.4},{"p":1,"s":"D","x":1.59,"y":-1.0},{"p":1,"s":"D","x":1.595,"y":-0.3},{"p":1,"s":"D","x":1.6,"y":-0.85},{"p":1,"s":"D","x":1.605,"y":-0.2},{"p":1,"s":"D","x":1.61,"y":-0.7},{"p":1,"s":"D","x":1.615,"y":-0.3},{"p":1,"s":"D","x":1.62,"y":-0.6},{"p":1,"s":"D","x":1.625,"y":-0.15},{"p":1,"s":"D","x":1.63,"y":-0.5},{"p":1,"s":"D","x":1.635,"y":-0.1},{"p":1,"s":"D","x":1.64,"y":-0.35},{"p":1,"s":"D","x":1.645,"y":0.0},{"p":1,"s":"D","x":1.65,"y":-0.25},{"p":1,"s":"D","x":1.655,"y":0.05},{"p":1,"s":"D","x":1.66,"y":-0.15},
{"p":1,"s":"D","x":1.67,"y":-0.1},{"p":1,"s":"D","x":1.68,"y":-0.25},{"p":1,"s":"D","x":1.69,"y":-0.05},{"p":1,"s":"D","x":1.7,"y":-0.3},{"p":1,"s":"D","x":1.71,"y":-0.1},{"p":1,"s":"D","x":1.72,"y":-0.35},{"p":1,"s":"D","x":1.73,"y":-0.15},{"p":1,"s":"D","x":1.74,"y":-0.4},{"p":1,"s":"D","x":1.75,"y":-0.1},{"p":1,"s":"D","x":1.76,"y":-0.2},{"p":1,"s":"D","x":1.77,"y":0.0},{"p":1,"s":"D","x":1.78,"y":-0.15},{"p":1,"s":"D","x":1.79,"y":0.05},{"p":1,"s":"D","x":1.8,"y":0.38},{"p":1,"s":"D","x":1.81,"y":0.0},{"p":1,"s":"D","x":1.82,"y":0.2},{"p":1,"s":"D","x":1.83,"y":-0.15},{"p":1,"s":"D","x":1.84,"y":0.25},{"p":1,"s":"D","x":1.85,"y":0.05},{"p":1,"s":"D","x":1.86,"y":0.3},{"p":1,"s":"D","x":1.87,"y":0.0},{"p":1,"s":"D","x":1.875,"y":1.25},{"p":1,"s":"D","x":1.88,"y":0.05},{"p":1,"s":"D","x":1.89,"y":0.2},{"p":1,"s":"D","x":1.895,"y":0.78},{"p":1,"s":"D","x":1.9,"y":0.1},{"p":1,"s":"D","x":1.91,"y":-0.05},{"p":1,"s":"D","x":1.92,"y":0.2},{"p":1,"s":"D","x":1.93,"y":0.05},{"p":1,"s":"D","x":1.94,"y":0.15},{"p":1,"s":"D","x":1.95,"y":-0.05},{"p":1,"s":"D","x":1.96,"y":0.2},{"p":1,"s":"D","x":1.97,"y":0.0},{"p":1,"s":"D","x":1.98,"y":0.15},{"p":1,"s":"D","x":1.99,"y":-0.1},{"p":1,"s":"D","x":2.0,"y":0.2},{"p":1,"s":"D","x":2.01,"y":0.1},{"p":1,"s":"D","x":2.02,"y":0.3},{"p":1,"s":"D","x":2.03,"y":0.15},{"p":1,"s":"D","x":2.04,"y":0.35},{"p":1,"s":"D","x":2.05,"y":0.25},{"p":1,"s":"D","x":2.06,"y":0.4},{"p":1,"s":"D","x":2.07,"y":0.35},{"p":1,"s":"D","x":2.08,"y":0.42},{"p":1,"s":"D","x":2.09,"y":0.3},{"p":1,"s":"D","x":2.1,"y":0.35},{"p":1,"s":"D","x":2.11,"y":0.2},{"p":1,"s":"D","x":2.12,"y":0.25},{"p":1,"s":"D","x":2.13,"y":0.1},{"p":1,"s":"D","x":2.14,"y":0.2},{"p":1,"s":"D","x":2.15,"y":0.05},{"p":1,"s":"D","x":2.16,"y":0.15},{"p":1,"s":"D","x":2.17,"y":-0.05},{"p":1,"s":"D","x":2.18,"y":0.1},{"p":1,"s":"D","x":2.19,"y":-0.05},{"p":1,"s":"D","x":2.2,"y":0.05},{"p":1,"s":"D","x":2.21,"y":-0.1},{"p":1,"s":"D","x":2.22,"y":0.05},{"p":1,"s":"D","x":2.23,"y":-0.1},{"p":1,"s":"D","x":2.24,"y":0.05},{"p":1,"s":"D","x":2.25,"y":-0.05},{"p":1,"s":"D","x":2.26,"y":0.1},{"p":1,"s":"D","x":2.27,"y":-0.05},{"p":1,"s":"D","x":2.28,"y":0.05},{"p":1,"s":"D","x":2.29,"y":0.0},{"p":1,"s":"D","x":2.3,"y":0.1},{"p":1,"s":"D","x":2.31,"y":-0.26},{"p":1,"s":"D","x":2.32,"y":0.05},{"p":1,"s":"D","x":2.33,"y":-0.05},{"p":1,"s":"D","x":2.34,"y":0.1},{"p":1,"s":"D","x":2.35,"y":-0.25},{"p":1,"s":"D","x":2.36,"y":0.1},{"p":1,"s":"D","x":2.37,"y":0.2},{"p":1,"s":"D","x":2.38,"y":0.35},{"p":1,"s":"D","x":2.39,"y":0.25},{"p":1,"s":"D","x":2.4,"y":0.42},

{"p":2,"s":"A","x":1.045,"y":-0.1},{"p":2,"s":"A","x":1.05,"y":0.2},{"p":2,"s":"A","x":1.055,"y":0.6},{"p":2,"s":"A","x":1.06,"y":0.5},{"p":2,"s":"A","x":1.065,"y":0.8},{"p":2,"s":"A","x":1.07,"y":0.65},{"p":2,"s":"A","x":1.075,"y":0.7},{"p":2,"s":"A","x":1.08,"y":0.45},{"p":2,"s":"A","x":1.085,"y":0.5},{"p":2,"s":"A","x":1.09,"y":0.3},{"p":2,"s":"A","x":1.095,"y":0.35},
{"p":2,"s":"A","x":1.1,"y":0.3},{"p":2,"s":"A","x":1.11,"y":0.2},{"p":2,"s":"A","x":1.12,"y":0.25},{"p":2,"s":"A","x":1.13,"y":0.15},{"p":2,"s":"A","x":1.14,"y":0.2},{"p":2,"s":"A","x":1.15,"y":0.1},{"p":2,"s":"A","x":1.16,"y":0.2},{"p":2,"s":"A","x":1.17,"y":0.15},
{"p":2,"s":"A","x":1.18,"y":0.35},{"p":2,"s":"A","x":1.185,"y":0.45},{"p":2,"s":"A","x":1.19,"y":0.05},{"p":2,"s":"A","x":1.195,"y":-0.15},{"p":2,"s":"A","x":1.2,"y":-0.1},{"p":2,"s":"A","x":1.205,"y":-0.35},{"p":2,"s":"A","x":1.21,"y":-0.3},{"p":2,"s":"A","x":1.215,"y":-0.55},{"p":2,"s":"A","x":1.22,"y":-0.35},{"p":2,"s":"A","x":1.225,"y":-0.45},{"p":2,"s":"A","x":1.23,"y":-0.2},{"p":2,"s":"A","x":1.235,"y":-0.6},{"p":2,"s":"A","x":1.24,"y":-0.1},{"p":2,"s":"A","x":1.245,"y":-0.5},{"p":2,"s":"A","x":1.25,"y":0.0},{"p":2,"s":"A","x":1.255,"y":0.2},{"p":2,"s":"A","x":1.26,"y":0.1},{"p":2,"s":"A","x":1.265,"y":0.3},{"p":2,"s":"A","x":1.27,"y":0.0},{"p":2,"s":"A","x":1.275,"y":-0.3},{"p":2,"s":"A","x":1.28,"y":-0.75},{"p":2,"s":"A","x":1.285,"y":1.3},{"p":2,"s":"A","x":1.29,"y":0.5},{"p":2,"s":"A","x":1.295,"y":0.75},{"p":2,"s":"A","x":1.3,"y":0.4},{"p":2,"s":"A","x":1.305,"y":0.6},{"p":2,"s":"A","x":1.31,"y":0.3},{"p":2,"s":"A","x":1.315,"y":0.45},{"p":2,"s":"A","x":1.32,"y":0.2},{"p":2,"s":"A","x":1.325,"y":0.3},{"p":2,"s":"A","x":1.33,"y":0.15},{"p":2,"s":"A","x":1.335,"y":0.2},
{"p":2,"s":"A","x":1.34,"y":0.2},{"p":2,"s":"A","x":1.35,"y":0.05},{"p":2,"s":"A","x":1.355,"y":0.25},{"p":2,"s":"A","x":1.36,"y":0.1},{"p":2,"s":"A","x":1.365,"y":0.3},{"p":2,"s":"A","x":1.37,"y":0.0},{"p":2,"s":"A","x":1.375,"y":0.2},{"p":2,"s":"A","x":1.38,"y":0.15},{"p":2,"s":"A","x":1.39,"y":0.3},{"p":2,"s":"A","x":1.4,"y":0.05},{"p":2,"s":"A","x":1.41,"y":0.25},{"p":2,"s":"A","x":1.42,"y":0.1},{"p":2,"s":"A","x":1.43,"y":0.3},{"p":2,"s":"A","x":1.44,"y":0.05},{"p":2,"s":"A","x":1.45,"y":0.2},{"p":2,"s":"A","x":1.46,"y":0.0},{"p":2,"s":"A","x":1.47,"y":0.3},{"p":2,"s":"A","x":1.48,"y":0.1},{"p":2,"s":"A","x":1.49,"y":0.25},
{"p":2,"s":"A","x":1.5,"y":0.2},{"p":2,"s":"A","x":1.505,"y":0.15},{"p":2,"s":"A","x":1.51,"y":0.25},{"p":2,"s":"A","x":1.515,"y":0.2},{"p":2,"s":"A","x":1.52,"y":0.3},{"p":2,"s":"A","x":1.525,"y":0.25},{"p":2,"s":"A","x":1.53,"y":0.4},{"p":2,"s":"A","x":1.535,"y":0.3},{"p":2,"s":"A","x":1.54,"y":0.35},{"p":2,"s":"A","x":1.545,"y":0.0},{"p":2,"s":"A","x":1.55,"y":-0.3},{"p":2,"s":"A","x":1.555,"y":-0.8},{"p":2,"s":"A","x":1.56,"y":0.0},{"p":2,"s":"A","x":1.565,"y":-0.5},{"p":2,"s":"A","x":1.57,"y":0.1},{"p":2,"s":"A","x":1.575,"y":0.5},{"p":2,"s":"A","x":1.58,"y":1.25},{"p":2,"s":"A","x":1.585,"y":0.8},{"p":2,"s":"A","x":1.59,"y":0.45},{"p":2,"s":"A","x":1.595,"y":-0.1},{"p":2,"s":"A","x":1.6,"y":0.2},{"p":2,"s":"A","x":1.605,"y":-0.3},{"p":2,"s":"A","x":1.61,"y":0.1},{"p":2,"s":"A","x":1.615,"y":-0.25},{"p":2,"s":"A","x":1.62,"y":0.05},{"p":2,"s":"A","x":1.625,"y":-0.1},{"p":2,"s":"A","x":1.63,"y":0.1},{"p":2,"s":"A","x":1.635,"y":0.0},{"p":2,"s":"A","x":1.64,"y":0.15},{"p":2,"s":"A","x":1.645,"y":0.05},{"p":2,"s":"A","x":1.65,"y":0.15},{"p":2,"s":"A","x":1.655,"y":0.1},{"p":2,"s":"A","x":1.66,"y":0.15},
{"p":2,"s":"A","x":1.67,"y":0.0},{"p":2,"s":"A","x":1.68,"y":-0.1},{"p":2,"s":"A","x":1.69,"y":0.0},{"p":2,"s":"A","x":1.7,"y":-0.1},{"p":2,"s":"A","x":1.71,"y":0.0},{"p":2,"s":"A","x":1.72,"y":-0.15},{"p":2,"s":"A","x":1.73,"y":-0.05},{"p":2,"s":"A","x":1.74,"y":-0.2},{"p":2,"s":"A","x":1.75,"y":0.0},{"p":2,"s":"A","x":1.76,"y":-0.05},{"p":2,"s":"A","x":1.77,"y":0.05},{"p":2,"s":"A","x":1.78,"y":0.0},{"p":2,"s":"A","x":1.79,"y":0.1},{"p":2,"s":"A","x":1.8,"y":0.35},{"p":2,"s":"A","x":1.81,"y":0.05},{"p":2,"s":"A","x":1.82,"y":0.2},{"p":2,"s":"A","x":1.83,"y":-0.05},{"p":2,"s":"A","x":1.84,"y":0.25},{"p":2,"s":"A","x":1.85,"y":0.05},{"p":2,"s":"A","x":1.86,"y":0.25},{"p":2,"s":"A","x":1.87,"y":0.0},{"p":2,"s":"A","x":1.875,"y":1.05},{"p":2,"s":"A","x":1.88,"y":0.05},{"p":2,"s":"A","x":1.89,"y":0.15},{"p":2,"s":"A","x":1.895,"y":0.6},{"p":2,"s":"A","x":1.9,"y":0.1},{"p":2,"s":"A","x":1.91,"y":-0.05},{"p":2,"s":"A","x":1.92,"y":0.15},{"p":2,"s":"A","x":1.93,"y":0.05},{"p":2,"s":"A","x":1.94,"y":0.15},{"p":2,"s":"A","x":1.95,"y":-0.05},{"p":2,"s":"A","x":1.96,"y":0.2},{"p":2,"s":"A","x":1.97,"y":0.0},{"p":2,"s":"A","x":1.98,"y":0.15},{"p":2,"s":"A","x":1.99,"y":-0.05},{"p":2,"s":"A","x":2.0,"y":0.15},{"p":2,"s":"A","x":2.01,"y":0.1},{"p":2,"s":"A","x":2.02,"y":0.3},{"p":2,"s":"A","x":2.03,"y":0.2},{"p":2,"s":"A","x":2.04,"y":0.33},{"p":2,"s":"A","x":2.05,"y":0.28},{"p":2,"s":"A","x":2.06,"y":0.43},{"p":2,"s":"A","x":2.07,"y":0.38},{"p":2,"s":"A","x":2.08,"y":0.45},{"p":2,"s":"A","x":2.09,"y":0.33},{"p":2,"s":"A","x":2.1,"y":0.38},{"p":2,"s":"A","x":2.11,"y":0.23},{"p":2,"s":"A","x":2.12,"y":0.28},{"p":2,"s":"A","x":2.13,"y":0.15},{"p":2,"s":"A","x":2.14,"y":0.2},{"p":2,"s":"A","x":2.15,"y":0.05},{"p":2,"s":"A","x":2.16,"y":0.25},{"p":2,"s":"A","x":2.17,"y":0.05},{"p":2,"s":"A","x":2.18,"y":0.15},{"p":2,"s":"A","x":2.19,"y":0.0},{"p":2,"s":"A","x":2.2,"y":0.1},{"p":2,"s":"A","x":2.21,"y":-0.05},{"p":2,"s":"A","x":2.22,"y":0.05},{"p":2,"s":"A","x":2.23,"y":-0.05},{"p":2,"s":"A","x":2.24,"y":0.05},{"p":2,"s":"A","x":2.25,"y":-0.05},{"p":2,"s":"A","x":2.26,"y":0.1},{"p":2,"s":"A","x":2.27,"y":-0.05},{"p":2,"s":"A","x":2.28,"y":0.05},{"p":2,"s":"A","x":2.29,"y":0.0},{"p":2,"s":"A","x":2.3,"y":0.1},{"p":2,"s":"A","x":2.31,"y":-0.2},{"p":2,"s":"A","x":2.32,"y":0.05},{"p":2,"s":"A","x":2.33,"y":-0.05},{"p":2,"s":"A","x":2.34,"y":0.1},{"p":2,"s":"A","x":2.35,"y":-0.2},{"p":2,"s":"A","x":2.36,"y":0.1},{"p":2,"s":"A","x":2.37,"y":0.2},{"p":2,"s":"A","x":2.38,"y":0.35},{"p":2,"s":"A","x":2.39,"y":0.25},{"p":2,"s":"A","x":2.4,"y":0.4},

{"p":2,"s":"B","x":1.045,"y":0.6},{"p":2,"s":"B","x":1.05,"y":0.95},{"p":2,"s":"B","x":1.055,"y":1.3},{"p":2,"s":"B","x":1.06,"y":1.0},{"p":2,"s":"B","x":1.065,"y":1.33},{"p":2,"s":"B","x":1.07,"y":1.1},{"p":2,"s":"B","x":1.075,"y":1.2},{"p":2,"s":"B","x":1.08,"y":0.8},{"p":2,"s":"B","x":1.085,"y":0.85},{"p":2,"s":"B","x":1.09,"y":0.5},{"p":2,"s":"B","x":1.095,"y":0.55},
{"p":2,"s":"B","x":1.1,"y":0.35},{"p":2,"s":"B","x":1.11,"y":0.25},{"p":2,"s":"B","x":1.12,"y":0.3},{"p":2,"s":"B","x":1.13,"y":0.2},{"p":2,"s":"B","x":1.14,"y":0.25},{"p":2,"s":"B","x":1.15,"y":0.15},{"p":2,"s":"B","x":1.16,"y":0.25},{"p":2,"s":"B","x":1.17,"y":0.2},
{"p":2,"s":"B","x":1.18,"y":0.35},{"p":2,"s":"B","x":1.185,"y":0.5},{"p":2,"s":"B","x":1.19,"y":0.0},{"p":2,"s":"B","x":1.195,"y":-0.15},{"p":2,"s":"B","x":1.2,"y":0.05},{"p":2,"s":"B","x":1.205,"y":-0.05},{"p":2,"s":"B","x":1.21,"y":0.2},{"p":2,"s":"B","x":1.215,"y":0.0},{"p":2,"s":"B","x":1.22,"y":0.15},{"p":2,"s":"B","x":1.225,"y":0.05},{"p":2,"s":"B","x":1.23,"y":0.55},{"p":2,"s":"B","x":1.235,"y":0.35},{"p":2,"s":"B","x":1.24,"y":0.7},{"p":2,"s":"B","x":1.245,"y":0.95},{"p":2,"s":"B","x":1.25,"y":0.75},{"p":2,"s":"B","x":1.255,"y":0.9},{"p":2,"s":"B","x":1.26,"y":0.6},{"p":2,"s":"B","x":1.265,"y":0.85},{"p":2,"s":"B","x":1.27,"y":0.4},{"p":2,"s":"B","x":1.275,"y":0.65},{"p":2,"s":"B","x":1.28,"y":0.25},{"p":2,"s":"B","x":1.285,"y":1.0},{"p":2,"s":"B","x":1.29,"y":0.55},{"p":2,"s":"B","x":1.295,"y":0.85},{"p":2,"s":"B","x":1.3,"y":0.6},{"p":2,"s":"B","x":1.305,"y":0.8},{"p":2,"s":"B","x":1.31,"y":0.45},{"p":2,"s":"B","x":1.315,"y":0.55},{"p":2,"s":"B","x":1.32,"y":0.3},{"p":2,"s":"B","x":1.325,"y":0.4},{"p":2,"s":"B","x":1.33,"y":0.15},{"p":2,"s":"B","x":1.335,"y":0.25},
{"p":2,"s":"B","x":1.34,"y":0.25},{"p":2,"s":"B","x":1.35,"y":0.1},{"p":2,"s":"B","x":1.355,"y":0.3},{"p":2,"s":"B","x":1.36,"y":0.15},{"p":2,"s":"B","x":1.365,"y":0.35},{"p":2,"s":"B","x":1.37,"y":0.05},{"p":2,"s":"B","x":1.375,"y":0.25},{"p":2,"s":"B","x":1.38,"y":0.2},{"p":2,"s":"B","x":1.39,"y":0.35},{"p":2,"s":"B","x":1.4,"y":0.1},{"p":2,"s":"B","x":1.41,"y":0.3},{"p":2,"s":"B","x":1.42,"y":0.15},{"p":2,"s":"B","x":1.43,"y":0.35},{"p":2,"s":"B","x":1.44,"y":0.1},{"p":2,"s":"B","x":1.45,"y":0.25},{"p":2,"s":"B","x":1.46,"y":0.05},{"p":2,"s":"B","x":1.47,"y":0.35},{"p":2,"s":"B","x":1.48,"y":0.15},{"p":2,"s":"B","x":1.49,"y":0.3},
{"p":2,"s":"B","x":1.5,"y":0.25},{"p":2,"s":"B","x":1.505,"y":0.2},{"p":2,"s":"B","x":1.51,"y":0.3},{"p":2,"s":"B","x":1.515,"y":0.25},{"p":2,"s":"B","x":1.52,"y":0.35},{"p":2,"s":"B","x":1.525,"y":0.3},{"p":2,"s":"B","x":1.53,"y":0.45},{"p":2,"s":"B","x":1.535,"y":0.35},{"p":2,"s":"B","x":1.54,"y":0.4},{"p":2,"s":"B","x":1.545,"y":0.1},{"p":2,"s":"B","x":1.55,"y":-0.4},{"p":2,"s":"B","x":1.555,"y":-1.1},{"p":2,"s":"B","x":1.56,"y":-1.3},{"p":2,"s":"B","x":1.565,"y":-0.6},{"p":2,"s":"B","x":1.57,"y":-0.1},{"p":2,"s":"B","x":1.575,"y":0.4},{"p":2,"s":"B","x":1.58,"y":0.95},{"p":2,"s":"B","x":1.585,"y":1.05},{"p":2,"s":"B","x":1.59,"y":0.6},{"p":2,"s":"B","x":1.595,"y":0.2},{"p":2,"s":"B","x":1.6,"y":-0.15},{"p":2,"s":"B","x":1.605,"y":0.1},{"p":2,"s":"B","x":1.61,"y":-0.2},{"p":2,"s":"B","x":1.615,"y":0.05},{"p":2,"s":"B","x":1.62,"y":-0.1},{"p":2,"s":"B","x":1.625,"y":0.1},{"p":2,"s":"B","x":1.63,"y":0.0},{"p":2,"s":"B","x":1.635,"y":0.15},{"p":2,"s":"B","x":1.64,"y":0.05},{"p":2,"s":"B","x":1.645,"y":0.15},{"p":2,"s":"B","x":1.65,"y":0.1},{"p":2,"s":"B","x":1.655,"y":0.15},{"p":2,"s":"B","x":1.66,"y":0.1},
{"p":2,"s":"B","x":1.67,"y":0.05},{"p":2,"s":"B","x":1.68,"y":-0.05},{"p":2,"s":"B","x":1.69,"y":0.05},{"p":2,"s":"B","x":1.7,"y":-0.05},{"p":2,"s":"B","x":1.71,"y":0.05},{"p":2,"s":"B","x":1.72,"y":-0.1},{"p":2,"s":"B","x":1.73,"y":0.0},{"p":2,"s":"B","x":1.74,"y":-0.15},{"p":2,"s":"B","x":1.75,"y":0.05},{"p":2,"s":"B","x":1.76,"y":0.0},{"p":2,"s":"B","x":1.77,"y":0.1},{"p":2,"s":"B","x":1.78,"y":0.05},{"p":2,"s":"B","x":1.79,"y":0.15},{"p":2,"s":"B","x":1.8,"y":0.4},{"p":2,"s":"B","x":1.81,"y":0.1},{"p":2,"s":"B","x":1.82,"y":0.25},{"p":2,"s":"B","x":1.83,"y":0.0},{"p":2,"s":"B","x":1.84,"y":0.3},{"p":2,"s":"B","x":1.85,"y":0.1},{"p":2,"s":"B","x":1.86,"y":0.3},{"p":2,"s":"B","x":1.87,"y":0.05},{"p":2,"s":"B","x":1.875,"y":1.1},{"p":2,"s":"B","x":1.88,"y":0.1},{"p":2,"s":"B","x":1.89,"y":0.2},{"p":2,"s":"B","x":1.895,"y":0.65},{"p":2,"s":"B","x":1.9,"y":0.15},{"p":2,"s":"B","x":1.91,"y":0.0},{"p":2,"s":"B","x":1.92,"y":0.2},{"p":2,"s":"B","x":1.93,"y":0.1},{"p":2,"s":"B","x":1.94,"y":0.2},{"p":2,"s":"B","x":1.95,"y":0.0},{"p":2,"s":"B","x":1.96,"y":0.25},{"p":2,"s":"B","x":1.97,"y":0.05},{"p":2,"s":"B","x":1.98,"y":0.2},{"p":2,"s":"B","x":1.99,"y":0.0},{"p":2,"s":"B","x":2.0,"y":0.25},{"p":2,"s":"B","x":2.01,"y":0.2},{"p":2,"s":"B","x":2.02,"y":0.4},{"p":2,"s":"B","x":2.03,"y":0.3},{"p":2,"s":"B","x":2.04,"y":0.45},{"p":2,"s":"B","x":2.05,"y":0.4},{"p":2,"s":"B","x":2.06,"y":0.55},{"p":2,"s":"B","x":2.07,"y":0.5},{"p":2,"s":"B","x":2.08,"y":0.58},{"p":2,"s":"B","x":2.09,"y":0.45},{"p":2,"s":"B","x":2.1,"y":0.5},{"p":2,"s":"B","x":2.11,"y":0.35},{"p":2,"s":"B","x":2.12,"y":0.4},{"p":2,"s":"B","x":2.13,"y":0.25},{"p":2,"s":"B","x":2.14,"y":0.3},{"p":2,"s":"B","x":2.15,"y":0.15},{"p":2,"s":"B","x":2.16,"y":0.3},{"p":2,"s":"B","x":2.17,"y":0.1},{"p":2,"s":"B","x":2.18,"y":0.2},{"p":2,"s":"B","x":2.19,"y":0.05},{"p":2,"s":"B","x":2.2,"y":0.15},{"p":2,"s":"B","x":2.21,"y":0.0},{"p":2,"s":"B","x":2.22,"y":0.1},{"p":2,"s":"B","x":2.23,"y":0.0},{"p":2,"s":"B","x":2.24,"y":0.1},{"p":2,"s":"B","x":2.25,"y":0.0},{"p":2,"s":"B","x":2.26,"y":0.15},{"p":2,"s":"B","x":2.27,"y":0.0},{"p":2,"s":"B","x":2.28,"y":0.1},{"p":2,"s":"B","x":2.29,"y":0.05},{"p":2,"s":"B","x":2.3,"y":0.15},{"p":2,"s":"B","x":2.31,"y":-0.15},{"p":2,"s":"B","x":2.32,"y":0.1},{"p":2,"s":"B","x":2.33,"y":0.0},{"p":2,"s":"B","x":2.34,"y":0.15},{"p":2,"s":"B","x":2.35,"y":-0.15},{"p":2,"s":"B","x":2.36,"y":0.15},{"p":2,"s":"B","x":2.37,"y":0.25},{"p":2,"s":"B","x":2.38,"y":0.4},{"p":2,"s":"B","x":2.39,"y":0.3},{"p":2,"s":"B","x":2.4,"y":0.45},

{"p":2,"s":"C","x":1.045,"y":-1.3},{"p":2,"s":"C","x":1.05,"y":-0.5},{"p":2,"s":"C","x":1.055,"y":-0.75},{"p":2,"s":"C","x":1.06,"y":-0.2},{"p":2,"s":"C","x":1.065,"y":-0.55},{"p":2,"s":"C","x":1.07,"y":-0.15},{"p":2,"s":"C","x":1.075,"y":-0.45},{"p":2,"s":"C","x":1.08,"y":-0.1},{"p":2,"s":"C","x":1.085,"y":-0.3},{"p":2,"s":"C","x":1.09,"y":0.0},{"p":2,"s":"C","x":1.095,"y":-0.15},
{"p":2,"s":"C","x":1.1,"y":0.2},{"p":2,"s":"C","x":1.11,"y":0.0},{"p":2,"s":"C","x":1.12,"y":0.15},{"p":2,"s":"C","x":1.13,"y":-0.1},{"p":2,"s":"C","x":1.14,"y":0.1},{"p":2,"s":"C","x":1.15,"y":-0.15},{"p":2,"s":"C","x":1.16,"y":0.05},{"p":2,"s":"C","x":1.17,"y":-0.2},
{"p":2,"s":"C","x":1.18,"y":0.2},{"p":2,"s":"C","x":1.185,"y":0.05},{"p":2,"s":"C","x":1.19,"y":-0.3},{"p":2,"s":"C","x":1.195,"y":-0.8},{"p":2,"s":"C","x":1.2,"y":-1.2},{"p":2,"s":"C","x":1.205,"y":-1.6},{"p":2,"s":"C","x":1.21,"y":-1.4},{"p":2,"s":"C","x":1.215,"y":-1.9},{"p":2,"s":"C","x":1.22,"y":-1.6},{"p":2,"s":"C","x":1.225,"y":-2.1},{"p":2,"s":"C","x":1.23,"y":-1.8},{"p":2,"s":"C","x":1.235,"y":-2.3},{"p":2,"s":"C","x":1.24,"y":-2.0},{"p":2,"s":"C","x":1.245,"y":-2.6},{"p":2,"s":"C","x":1.25,"y":-2.2},{"p":2,"s":"C","x":1.255,"y":-2.75},{"p":2,"s":"C","x":1.26,"y":-2.4},{"p":2,"s":"C","x":1.265,"y":-3.0},{"p":2,"s":"C","x":1.27,"y":-2.5},{"p":2,"s":"C","x":1.275,"y":-3.0},{"p":2,"s":"C","x":1.28,"y":-2.4},{"p":2,"s":"C","x":1.285,"y":-1.9},{"p":2,"s":"C","x":1.29,"y":-1.5},{"p":2,"s":"C","x":1.295,"y":-1.2},{"p":2,"s":"C","x":1.3,"y":-0.8},{"p":2,"s":"C","x":1.305,"y":-0.45},{"p":2,"s":"C","x":1.31,"y":-0.3},{"p":2,"s":"C","x":1.315,"y":-0.5},{"p":2,"s":"C","x":1.32,"y":-0.05},{"p":2,"s":"C","x":1.325,"y":-0.25},{"p":2,"s":"C","x":1.33,"y":0.0},{"p":2,"s":"C","x":1.335,"y":-0.15},
{"p":2,"s":"C","x":1.34,"y":0.1},{"p":2,"s":"C","x":1.35,"y":-0.25},{"p":2,"s":"C","x":1.355,"y":0.25},{"p":2,"s":"C","x":1.36,"y":-0.05},{"p":2,"s":"C","x":1.365,"y":0.5},{"p":2,"s":"C","x":1.37,"y":-0.6},{"p":2,"s":"C","x":1.375,"y":0.2},{"p":2,"s":"C","x":1.38,"y":0.05},{"p":2,"s":"C","x":1.39,"y":0.25},{"p":2,"s":"C","x":1.4,"y":-0.05},{"p":2,"s":"C","x":1.41,"y":0.2},{"p":2,"s":"C","x":1.42,"y":0.0},{"p":2,"s":"C","x":1.43,"y":0.25},{"p":2,"s":"C","x":1.44,"y":-0.1},{"p":2,"s":"C","x":1.45,"y":0.15},{"p":2,"s":"C","x":1.46,"y":-0.15},{"p":2,"s":"C","x":1.47,"y":0.25},{"p":2,"s":"C","x":1.48,"y":0.0},{"p":2,"s":"C","x":1.49,"y":0.2},
{"p":2,"s":"C","x":1.5,"y":0.2},{"p":2,"s":"C","x":1.505,"y":0.0},{"p":2,"s":"C","x":1.51,"y":0.25},{"p":2,"s":"C","x":1.515,"y":-0.05},{"p":2,"s":"C","x":1.52,"y":0.2},{"p":2,"s":"C","x":1.525,"y":-0.2},{"p":2,"s":"C","x":1.53,"y":0.1},{"p":2,"s":"C","x":1.535,"y":-0.5},{"p":2,"s":"C","x":1.54,"y":-0.1},{"p":2,"s":"C","x":1.545,"y":-0.9},{"p":2,"s":"C","x":1.55,"y":-1.2},{"p":2,"s":"C","x":1.555,"y":-1.8},{"p":2,"s":"C","x":1.56,"y":-2.7},{"p":2,"s":"C","x":1.565,"y":-2.0},{"p":2,"s":"C","x":1.57,"y":-1.2},{"p":2,"s":"C","x":1.575,"y":-0.5},{"p":2,"s":"C","x":1.58,"y":0.3},{"p":2,"s":"C","x":1.585,"y":0.5},{"p":2,"s":"C","x":1.59,"y":-0.2},{"p":2,"s":"C","x":1.595,"y":0.0},{"p":2,"s":"C","x":1.6,"y":-0.5},{"p":2,"s":"C","x":1.605,"y":-0.1},{"p":2,"s":"C","x":1.61,"y":-0.45},{"p":2,"s":"C","x":1.615,"y":-0.1},{"p":2,"s":"C","x":1.62,"y":-0.35},{"p":2,"s":"C","x":1.625,"y":0.0},{"p":2,"s":"C","x":1.63,"y":-0.3},{"p":2,"s":"C","x":1.635,"y":0.0},{"p":2,"s":"C","x":1.64,"y":-0.2},{"p":2,"s":"C","x":1.645,"y":0.05},{"p":2,"s":"C","x":1.65,"y":-0.1},{"p":2,"s":"C","x":1.655,"y":0.1},{"p":2,"s":"C","x":1.66,"y":-0.05},
{"p":2,"s":"C","x":1.67,"y":-0.15},{"p":2,"s":"C","x":1.68,"y":-0.3},{"p":2,"s":"C","x":1.69,"y":-0.1},{"p":2,"s":"C","x":1.7,"y":-0.35},{"p":2,"s":"C","x":1.71,"y":-0.15},{"p":2,"s":"C","x":1.72,"y":-0.4},{"p":2,"s":"C","x":1.73,"y":-0.2},{"p":2,"s":"C","x":1.74,"y":-0.45},{"p":2,"s":"C","x":1.75,"y":-0.15},{"p":2,"s":"C","x":1.76,"y":-0.25},{"p":2,"s":"C","x":1.77,"y":-0.05},{"p":2,"s":"C","x":1.78,"y":-0.2},{"p":2,"s":"C","x":1.79,"y":0.0},{"p":2,"s":"C","x":1.8,"y":0.33},{"p":2,"s":"C","x":1.81,"y":-0.05},{"p":2,"s":"C","x":1.82,"y":0.15},{"p":2,"s":"C","x":1.83,"y":-0.2},{"p":2,"s":"C","x":1.84,"y":0.2},{"p":2,"s":"C","x":1.85,"y":0.0},{"p":2,"s":"C","x":1.86,"y":0.25},{"p":2,"s":"C","x":1.87,"y":-0.05},{"p":2,"s":"C","x":1.875,"y":1.2},{"p":2,"s":"C","x":1.88,"y":0.0},{"p":2,"s":"C","x":1.89,"y":0.15},{"p":2,"s":"C","x":1.895,"y":0.73},{"p":2,"s":"C","x":1.9,"y":0.05},{"p":2,"s":"C","x":1.91,"y":-0.1},{"p":2,"s":"C","x":1.92,"y":0.15},{"p":2,"s":"C","x":1.93,"y":0.0},{"p":2,"s":"C","x":1.94,"y":0.1},{"p":2,"s":"C","x":1.95,"y":-0.1},{"p":2,"s":"C","x":1.96,"y":0.15},{"p":2,"s":"C","x":1.97,"y":-0.05},{"p":2,"s":"C","x":1.98,"y":0.1},{"p":2,"s":"C","x":1.99,"y":-0.15},{"p":2,"s":"C","x":2.0,"y":0.0},{"p":2,"s":"C","x":2.01,"y":-0.1},{"p":2,"s":"C","x":2.02,"y":0.05},{"p":2,"s":"C","x":2.03,"y":-0.05},{"p":2,"s":"C","x":2.04,"y":0.1},{"p":2,"s":"C","x":2.05,"y":0.0},{"p":2,"s":"C","x":2.06,"y":0.12},{"p":2,"s":"C","x":2.07,"y":0.05},{"p":2,"s":"C","x":2.08,"y":0.1},{"p":2,"s":"C","x":2.09,"y":-0.05},{"p":2,"s":"C","x":2.1,"y":0.0},{"p":2,"s":"C","x":2.11,"y":-0.15},{"p":2,"s":"C","x":2.12,"y":-0.05},{"p":2,"s":"C","x":2.13,"y":-0.17},{"p":2,"s":"C","x":2.14,"y":-0.1},{"p":2,"s":"C","x":2.15,"y":-0.2},{"p":2,"s":"C","x":2.16,"y":-0.1},{"p":2,"s":"C","x":2.17,"y":-0.2},{"p":2,"s":"C","x":2.18,"y":-0.1},{"p":2,"s":"C","x":2.19,"y":-0.15},{"p":2,"s":"C","x":2.2,"y":-0.05},{"p":2,"s":"C","x":2.21,"y":-0.15},{"p":2,"s":"C","x":2.22,"y":0.0},{"p":2,"s":"C","x":2.23,"y":-0.15},{"p":2,"s":"C","x":2.24,"y":0.0},{"p":2,"s":"C","x":2.25,"y":-0.1},{"p":2,"s":"C","x":2.26,"y":0.05},{"p":2,"s":"C","x":2.27,"y":-0.1},{"p":2,"s":"C","x":2.28,"y":0.0},{"p":2,"s":"C","x":2.29,"y":-0.05},{"p":2,"s":"C","x":2.3,"y":0.05},{"p":2,"s":"C","x":2.31,"y":-0.3},{"p":2,"s":"C","x":2.32,"y":0.0},{"p":2,"s":"C","x":2.33,"y":-0.1},{"p":2,"s":"C","x":2.34,"y":0.05},{"p":2,"s":"C","x":2.35,"y":-0.3},{"p":2,"s":"C","x":2.36,"y":0.05},{"p":2,"s":"C","x":2.37,"y":0.15},{"p":2,"s":"C","x":2.38,"y":0.3},{"p":2,"s":"C","x":2.39,"y":0.2},{"p":2,"s":"C","x":2.4,"y":0.37},

{"p":2,"s":"D","x":1.045,"y":-0.95},{"p":2,"s":"D","x":1.05,"y":0.0},{"p":2,"s":"D","x":1.055,"y":-0.2},{"p":2,"s":"D","x":1.06,"y":0.45},{"p":2,"s":"D","x":1.065,"y":0.1},{"p":2,"s":"D","x":1.07,"y":0.4},{"p":2,"s":"D","x":1.075,"y":-0.05},{"p":2,"s":"D","x":1.08,"y":0.3},{"p":2,"s":"D","x":1.085,"y":0.05},{"p":2,"s":"D","x":1.09,"y":0.25},{"p":2,"s":"D","x":1.095,"y":0.05},
{"p":2,"s":"D","x":1.1,"y":0.3},{"p":2,"s":"D","x":1.11,"y":0.05},{"p":2,"s":"D","x":1.12,"y":0.25},{"p":2,"s":"D","x":1.13,"y":-0.1},{"p":2,"s":"D","x":1.14,"y":0.2},{"p":2,"s":"D","x":1.15,"y":-0.25},{"p":2,"s":"D","x":1.16,"y":0.1},{"p":2,"s":"D","x":1.17,"y":-0.3},
{"p":2,"s":"D","x":1.18,"y":0.0},{"p":2,"s":"D","x":1.185,"y":-0.2},{"p":2,"s":"D","x":1.19,"y":-0.5},{"p":2,"s":"D","x":1.195,"y":-1.1},{"p":2,"s":"D","x":1.2,"y":-0.7},{"p":2,"s":"D","x":1.205,"y":-1.3},{"p":2,"s":"D","x":1.21,"y":-0.85},{"p":2,"s":"D","x":1.215,"y":-1.2},{"p":2,"s":"D","x":1.22,"y":-0.8},{"p":2,"s":"D","x":1.225,"y":-1.45},{"p":2,"s":"D","x":1.23,"y":-0.95},{"p":2,"s":"D","x":1.235,"y":-1.6},{"p":2,"s":"D","x":1.24,"y":-1.0},{"p":2,"s":"D","x":1.245,"y":-1.45},{"p":2,"s":"D","x":1.25,"y":-0.9},{"p":2,"s":"D","x":1.255,"y":-1.75},{"p":2,"s":"D","x":1.26,"y":-1.15},{"p":2,"s":"D","x":1.265,"y":-1.9},{"p":2,"s":"D","x":1.27,"y":-0.95},{"p":2,"s":"D","x":1.275,"y":-1.7},{"p":2,"s":"D","x":1.28,"y":-1.3},{"p":2,"s":"D","x":1.285,"y":-2.0},{"p":2,"s":"D","x":1.29,"y":-3.0},{"p":2,"s":"D","x":1.295,"y":-0.55},{"p":2,"s":"D","x":1.3,"y":-1.1},{"p":2,"s":"D","x":1.305,"y":-0.15},{"p":2,"s":"D","x":1.31,"y":-1.25},{"p":2,"s":"D","x":1.315,"y":-2.2},{"p":2,"s":"D","x":1.32,"y":-0.35},{"p":2,"s":"D","x":1.325,"y":0.2},{"p":2,"s":"D","x":1.33,"y":-0.5},{"p":2,"s":"D","x":1.335,"y":0.0},
{"p":2,"s":"D","x":1.34,"y":0.15},{"p":2,"s":"D","x":1.35,"y":-0.4},{"p":2,"s":"D","x":1.355,"y":0.3},{"p":2,"s":"D","x":1.36,"y":-0.1},{"p":2,"s":"D","x":1.365,"y":0.78},{"p":2,"s":"D","x":1.37,"y":-0.97},{"p":2,"s":"D","x":1.375,"y":0.2},{"p":2,"s":"D","x":1.38,"y":0.05},{"p":2,"s":"D","x":1.39,"y":0.3},{"p":2,"s":"D","x":1.4,"y":-0.1},{"p":2,"s":"D","x":1.41,"y":0.2},{"p":2,"s":"D","x":1.42,"y":0.0},{"p":2,"s":"D","x":1.43,"y":0.25},{"p":2,"s":"D","x":1.44,"y":-0.15},{"p":2,"s":"D","x":1.45,"y":0.15},{"p":2,"s":"D","x":1.46,"y":-0.2},{"p":2,"s":"D","x":1.47,"y":0.25},{"p":2,"s":"D","x":1.48,"y":-0.05},{"p":2,"s":"D","x":1.49,"y":0.2},
{"p":2,"s":"D","x":1.5,"y":0.15},{"p":2,"s":"D","x":1.505,"y":-0.1},{"p":2,"s":"D","x":1.51,"y":0.2},{"p":2,"s":"D","x":1.515,"y":-0.2},{"p":2,"s":"D","x":1.52,"y":0.1},{"p":2,"s":"D","x":1.525,"y":-0.4},{"p":2,"s":"D","x":1.53,"y":-0.1},{"p":2,"s":"D","x":1.535,"y":-0.8},{"p":2,"s":"D","x":1.54,"y":-0.3},{"p":2,"s":"D","x":1.545,"y":-1.3},{"p":2,"s":"D","x":1.55,"y":-0.9},{"p":2,"s":"D","x":1.555,"y":-2.2},{"p":2,"s":"D","x":1.56,"y":-2.95},{"p":2,"s":"D","x":1.565,"y":-2.3},{"p":2,"s":"D","x":1.57,"y":-1.6},{"p":2,"s":"D","x":1.575,"y":-0.9},{"p":2,"s":"D","x":1.58,"y":-1.3},{"p":2,"s":"D","x":1.585,"y":-0.4},{"p":2,"s":"D","x":1.59,"y":-1.0},{"p":2,"s":"D","x":1.595,"y":-0.3},{"p":2,"s":"D","x":1.6,"y":-0.85},{"p":2,"s":"D","x":1.605,"y":-0.2},{"p":2,"s":"D","x":1.61,"y":-0.7},{"p":2,"s":"D","x":1.615,"y":-0.3},{"p":2,"s":"D","x":1.62,"y":-0.6},{"p":2,"s":"D","x":1.625,"y":-0.15},{"p":2,"s":"D","x":1.63,"y":-0.5},{"p":2,"s":"D","x":1.635,"y":-0.1},{"p":2,"s":"D","x":1.64,"y":-0.35},{"p":2,"s":"D","x":1.645,"y":0.0},{"p":2,"s":"D","x":1.65,"y":-0.25},{"p":2,"s":"D","x":1.655,"y":0.05},{"p":2,"s":"D","x":1.66,"y":-0.15},
{"p":2,"s":"D","x":1.67,"y":-0.1},{"p":2,"s":"D","x":1.68,"y":-0.25},{"p":2,"s":"D","x":1.69,"y":-0.05},{"p":2,"s":"D","x":1.7,"y":-0.3},{"p":2,"s":"D","x":1.71,"y":-0.1},{"p":2,"s":"D","x":1.72,"y":-0.35},{"p":2,"s":"D","x":1.73,"y":-0.15},{"p":2,"s":"D","x":1.74,"y":-0.4},{"p":2,"s":"D","x":1.75,"y":-0.1},{"p":2,"s":"D","x":1.76,"y":-0.2},{"p":2,"s":"D","x":1.77,"y":0.0},{"p":2,"s":"D","x":1.78,"y":-0.15},{"p":2,"s":"D","x":1.79,"y":0.05},{"p":2,"s":"D","x":1.8,"y":0.38},{"p":2,"s":"D","x":1.81,"y":0.0},{"p":2,"s":"D","x":1.82,"y":0.2},{"p":2,"s":"D","x":1.83,"y":-0.15},{"p":2,"s":"D","x":1.84,"y":0.25},{"p":2,"s":"D","x":1.85,"y":0.05},{"p":2,"s":"D","x":1.86,"y":0.3},{"p":2,"s":"D","x":1.87,"y":0.0},{"p":2,"s":"D","x":1.875,"y":1.25},{"p":2,"s":"D","x":1.88,"y":0.05},{"p":2,"s":"D","x":1.89,"y":0.2},{"p":2,"s":"D","x":1.895,"y":0.78},{"p":2,"s":"D","x":1.9,"y":0.1},{"p":2,"s":"D","x":1.91,"y":-0.05},{"p":2,"s":"D","x":1.92,"y":0.2},{"p":2,"s":"D","x":1.93,"y":0.05},{"p":2,"s":"D","x":1.94,"y":0.15},{"p":2,"s":"D","x":1.95,"y":-0.05},{"p":2,"s":"D","x":1.96,"y":0.2},{"p":2,"s":"D","x":1.97,"y":0.0},{"p":2,"s":"D","x":1.98,"y":0.15},{"p":2,"s":"D","x":1.99,"y":-0.1},{"p":2,"s":"D","x":2.0,"y":0.15},{"p":2,"s":"D","x":2.01,"y":0.05},{"p":2,"s":"D","x":2.02,"y":0.2},{"p":2,"s":"D","x":2.03,"y":0.1},{"p":2,"s":"D","x":2.04,"y":0.25},{"p":2,"s":"D","x":2.05,"y":0.15},{"p":2,"s":"D","x":2.06,"y":0.3},{"p":2,"s":"D","x":2.07,"y":0.25},{"p":2,"s":"D","x":2.08,"y":0.32},{"p":2,"s":"D","x":2.09,"y":0.2},{"p":2,"s":"D","x":2.1,"y":0.25},{"p":2,"s":"D","x":2.11,"y":0.1},{"p":2,"s":"D","x":2.12,"y":0.15},{"p":2,"s":"D","x":2.13,"y":0.05},{"p":2,"s":"D","x":2.14,"y":0.1},{"p":2,"s":"D","x":2.15,"y":0.0},{"p":2,"s":"D","x":2.16,"y":0.1},{"p":2,"s":"D","x":2.17,"y":-0.1},{"p":2,"s":"D","x":2.18,"y":0.05},{"p":2,"s":"D","x":2.19,"y":-0.05},{"p":2,"s":"D","x":2.2,"y":0.05},{"p":2,"s":"D","x":2.21,"y":-0.1},{"p":2,"s":"D","x":2.22,"y":0.05},{"p":2,"s":"D","x":2.23,"y":-0.1},{"p":2,"s":"D","x":2.24,"y":0.05},{"p":2,"s":"D","x":2.25,"y":-0.05},{"p":2,"s":"D","x":2.26,"y":0.1},{"p":2,"s":"D","x":2.27,"y":-0.05},{"p":2,"s":"D","x":2.28,"y":0.05},{"p":2,"s":"D","x":2.29,"y":0.0},{"p":2,"s":"D","x":2.3,"y":0.1},{"p":2,"s":"D","x":2.31,"y":-0.26},{"p":2,"s":"D","x":2.32,"y":0.05},{"p":2,"s":"D","x":2.33,"y":-0.05},{"p":2,"s":"D","x":2.34,"y":0.1},{"p":2,"s":"D","x":2.35,"y":-0.25},{"p":2,"s":"D","x":2.36,"y":0.1},{"p":2,"s":"D","x":2.37,"y":0.2},{"p":2,"s":"D","x":2.38,"y":0.35},{"p":2,"s":"D","x":2.39,"y":0.25},{"p":2,"s":"D","x":2.4,"y":0.42}
]},
"vconcat": [
 {
  "width": 424, "height": 279,
  "data": {"name": "d"},
  "transform": [{"filter": "datum.p == 1"}],
  "layer": [
   {"data": {"values": [{}]},
    "mark": {"type": "rule", "color": "#8c8c8c", "strokeWidth": 1},
    "encoding": {
     "x": {"datum": 1.0, "type": "quantitative", "axis": {"orient": "top", "labels": false, "title": null, "values": [1,1.05,1.1,1.15,1.2,1.25,1.3,1.35,1.4,1.45,1.5,1.55,1.6,1.65,1.7,1.75,1.8,1.85,1.9,1.95,2,2.05,2.1,2.15,2.2,2.25,2.3,2.35,2.4,2.45,2.5], "tickSize": {"condition": {"test": "abs(datum.value*5 - round(datum.value*5)) < 0.01", "value": -6}, "value": -3}}},
     "x2": {"datum": 2.5},
     "y": {"datum": 0, "type": "quantitative", "axis": {"orient": "right", "labels": false, "title": null, "values": [-3,-2.9,-2.8,-2.7,-2.6,-2.5,-2.4,-2.3,-2.2,-2.1,-2,-1.9,-1.8,-1.7,-1.6,-1.5,-1.4,-1.3,-1.2,-1.1,-1,-0.9,-0.8,-0.7,-0.6,-0.5,-0.4,-0.3,-0.2,-0.1,0,0.1,0.2,0.3,0.4,0.5,0.6,0.7,0.8,0.9,1,1.1,1.2,1.3,1.4,1.5,1.6,1.7,1.8,1.9,2,2.1,2.2,2.3,2.4,2.5,2.6,2.7,2.8,2.9,3], "tickSize": {"condition": {"test": "abs(datum.value - round(datum.value)) < 0.01", "value": -6}, "value": -3}}}
    }},
   {"mark": {"type": "line", "strokeWidth": 1, "clip": true},
    "encoding": {
     "x": {"field": "x", "type": "quantitative", "scale": {"domain": [1, 2.5], "nice": false, "zero": false},
       "axis": {"orient": "bottom", "title": "Wavelength / μm", "titleX": 212, "titleY": 29, "titleBaseline": "middle", "labelPadding": 8, "values": [1,1.05,1.1,1.15,1.2,1.25,1.3,1.35,1.4,1.45,1.5,1.55,1.6,1.65,1.7,1.75,1.8,1.85,1.9,1.95,2,2.05,2.1,2.15,2.2,2.25,2.3,2.35,2.4,2.45,2.5], "labelExpr": "abs(datum.value*5 - round(datum.value*5)) < 0.01 ? format(datum.value, '.1f') : ''", "tickSize": {"condition": {"test": "abs(datum.value*5 - round(datum.value*5)) < 0.01", "value": -6}, "value": -3}}},
     "y": {"field": "y", "type": "quantitative", "scale": {"domain": [-3, 3], "nice": false, "zero": false},
       "axis": {"orient": "left", "title": "Residual λFλ / 10⁻¹⁶ Wm⁻²", "titleX": -38, "titleY": 139.5, "titleBaseline": "middle", "titleAngle": -90, "labelPadding": 12, "values": [-3,-2.9,-2.8,-2.7,-2.6,-2.5,-2.4,-2.3,-2.2,-2.1,-2,-1.9,-1.8,-1.7,-1.6,-1.5,-1.4,-1.3,-1.2,-1.1,-1,-0.9,-0.8,-0.7,-0.6,-0.5,-0.4,-0.3,-0.2,-0.1,0,0.1,0.2,0.3,0.4,0.5,0.6,0.7,0.8,0.9,1,1.1,1.2,1.3,1.4,1.5,1.6,1.7,1.8,1.9,2,2.1,2.2,2.3,2.4,2.5,2.6,2.7,2.8,2.9,3], "labelExpr": "abs(datum.value - round(datum.value)) < 0.01 ? format(datum.value, 'd') : ''", "tickSize": {"condition": {"test": "abs(datum.value - round(datum.value)) < 0.01", "value": -6}, "value": -3}}},
     "color": {"field": "s", "type": "nominal", "scale": {"domain": ["A","B","C","D"], "range": ["#ff0000","#ffff00","#00ff00","#1a8cff"]},
       "legend": {"orient": "none", "legendX": 54, "legendY": 14, "title": null, "symbolType": "stroke", "symbolSize": 784, "symbolStrokeWidth": 1.5, "clipHeight": 9, "rowPadding": 0, "padding": 0, "labelFont": "Liberation Sans", "labelFontSize": 9.5, "labelColor": "#555", "labelOffset": 12, "labelLimit": 400,
         "labelExpr": "'BT Settl ' + (datum.label == 'A' ? '550K, log g = 4.75' : datum.label == 'B' ? '550K, log g = 5.00' : datum.label == 'C' ? '600K, log g = 4.75' : '600K, log g = 5.00') + ', [M/H] = 0.0'"}}
    }}
  ],
  "resolve": {"axis": {"x": "independent", "y": "independent"}}
 },
 {
  "width": 424, "height": 279,
  "data": {"name": "d"},
  "transform": [{"filter": "datum.p == 2"}],
  "layer": [
   {"data": {"values": [{}]},
    "mark": {"type": "rule", "color": "#8c8c8c", "strokeWidth": 1},
    "encoding": {
     "x": {"datum": 1.0, "type": "quantitative", "axis": {"orient": "top", "labels": false, "title": null, "values": [1,1.05,1.1,1.15,1.2,1.25,1.3,1.35,1.4,1.45,1.5,1.55,1.6,1.65,1.7,1.75,1.8,1.85,1.9,1.95,2,2.05,2.1,2.15,2.2,2.25,2.3,2.35,2.4,2.45,2.5], "tickSize": {"condition": {"test": "abs(datum.value*5 - round(datum.value*5)) < 0.01", "value": -6}, "value": -3}}},
     "x2": {"datum": 2.5},
     "y": {"datum": 0, "type": "quantitative", "axis": {"orient": "right", "labels": false, "title": null, "values": [-3,-2.9,-2.8,-2.7,-2.6,-2.5,-2.4,-2.3,-2.2,-2.1,-2,-1.9,-1.8,-1.7,-1.6,-1.5,-1.4,-1.3,-1.2,-1.1,-1,-0.9,-0.8,-0.7,-0.6,-0.5,-0.4,-0.3,-0.2,-0.1,0,0.1,0.2,0.3,0.4,0.5,0.6,0.7,0.8,0.9,1,1.1,1.2,1.3,1.4,1.5,1.6,1.7,1.8,1.9,2,2.1,2.2,2.3,2.4,2.5,2.6,2.7,2.8,2.9,3], "tickSize": {"condition": {"test": "abs(datum.value - round(datum.value)) < 0.01", "value": -6}, "value": -3}}}
    }},
   {"mark": {"type": "line", "strokeWidth": 1, "clip": true},
    "encoding": {
     "x": {"field": "x", "type": "quantitative", "scale": {"domain": [1, 2.5], "nice": false, "zero": false},
       "axis": {"orient": "bottom", "title": "Wavelength / μm", "titleX": 212, "titleY": 29, "titleBaseline": "middle", "labelPadding": 8, "values": [1,1.05,1.1,1.15,1.2,1.25,1.3,1.35,1.4,1.45,1.5,1.55,1.6,1.65,1.7,1.75,1.8,1.85,1.9,1.95,2,2.05,2.1,2.15,2.2,2.25,2.3,2.35,2.4,2.45,2.5], "labelExpr": "abs(datum.value*5 - round(datum.value*5)) < 0.01 ? format(datum.value, '.1f') : ''", "tickSize": {"condition": {"test": "abs(datum.value*5 - round(datum.value*5)) < 0.01", "value": -6}, "value": -3}}},
     "y": {"field": "y", "type": "quantitative", "scale": {"domain": [-3, 3], "nice": false, "zero": false},
       "axis": {"orient": "left", "title": "Residual λFλ / 10⁻¹⁶ Wm⁻²", "titleX": -38, "titleY": 139.5, "titleBaseline": "middle", "titleAngle": -90, "labelPadding": 12, "values": [-3,-2.9,-2.8,-2.7,-2.6,-2.5,-2.4,-2.3,-2.2,-2.1,-2,-1.9,-1.8,-1.7,-1.6,-1.5,-1.4,-1.3,-1.2,-1.1,-1,-0.9,-0.8,-0.7,-0.6,-0.5,-0.4,-0.3,-0.2,-0.1,0,0.1,0.2,0.3,0.4,0.5,0.6,0.7,0.8,0.9,1,1.1,1.2,1.3,1.4,1.5,1.6,1.7,1.8,1.9,2,2.1,2.2,2.3,2.4,2.5,2.6,2.7,2.8,2.9,3], "labelExpr": "abs(datum.value - round(datum.value)) < 0.01 ? format(datum.value, 'd') : ''", "tickSize": {"condition": {"test": "abs(datum.value - round(datum.value)) < 0.01", "value": -6}, "value": -3}}},
     "color": {"field": "s", "type": "nominal", "scale": {"domain": ["A","B","C","D"], "range": ["#ff0000","#ffff00","#00ff00","#1a8cff"]},
       "legend": {"orient": "none", "legendX": 54, "legendY": 14, "title": null, "symbolType": "stroke", "symbolSize": 784, "symbolStrokeWidth": 1.5, "clipHeight": 9, "rowPadding": 0, "padding": 0, "labelFont": "Liberation Sans", "labelFontSize": 9.5, "labelColor": "#555", "labelOffset": 12, "labelLimit": 400,
         "labelExpr": "'BT Settl ' + (datum.label == 'A' ? '550K, log g = 4.75' : datum.label == 'B' ? '550K, log g = 5.00' : datum.label == 'C' ? '600K, log g = 4.75' : '600K, log g = 5.00') + ', [M/H] = 0.1'"}}
    }}
  ],
  "resolve": {"axis": {"x": "independent", "y": "independent"}}
 }
],
"resolve": {"scale": {"color": "independent"}, "legend": {"color": "independent"}}
}
